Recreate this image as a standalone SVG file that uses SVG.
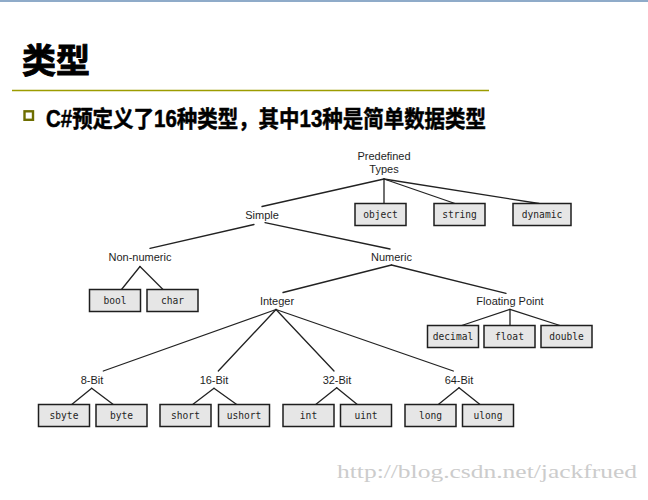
<svg xmlns="http://www.w3.org/2000/svg" width="648" height="500" viewBox="0 0 648 500">
<style>
.lbl{font-family:"Liberation Sans",Arial,sans-serif;font-size:11px;fill:#1e1e1e;text-anchor:middle}
.box rect{fill:#e6e6e6;stroke:#1e1e1e;stroke-width:1.5}
.box text{font-family:"DejaVu Sans Mono","Liberation Mono",monospace;font-size:9.6px;fill:#1e1e1e;text-anchor:middle}
#connectors line{stroke:#222;stroke-width:1.3;stroke-linecap:round}
</style>
<rect x="0" y="0" width="648" height="500" fill="#ffffff"/>
<rect x="0" y="0" width="648" height="2" fill="#8fabc9"/>
<text x="22" y="73" font-family="'Liberation Sans','Noto Sans CJK SC',sans-serif" font-size="34" font-weight="bold" fill="#000" stroke="#000" stroke-width="0.9">类型</text>
<line x1="12" y1="90.5" x2="489" y2="90.5" stroke="#9c9c00" stroke-width="1.5"/>
<rect x="24.5" y="111.3" width="8.5" height="8.5" fill="#ffffff" stroke="#6e6e00" stroke-width="2.4"/>
<text x="46" y="126.5" font-family="'Liberation Sans','Noto Sans CJK SC',sans-serif" font-size="23" font-weight="bold" fill="#000" stroke="#000" stroke-width="0.5" textLength="440" lengthAdjust="spacingAndGlyphs">C#预定义了16种类型，其中13种是简单数据类型</text>

<g id="connectors">
<line x1="384" y1="179" x2="262" y2="206.5"/>
<line x1="384" y1="179" x2="384" y2="203.5"/>
<line x1="384" y1="179" x2="455" y2="203.5"/>
<line x1="384" y1="179" x2="539" y2="203.5"/>
<line x1="254" y1="224.5" x2="150" y2="248.3"/>
<line x1="265" y1="222.7" x2="390" y2="249"/>
<line x1="140" y1="266.5" x2="121.5" y2="289.5"/>
<line x1="140" y1="266.5" x2="163" y2="289.5"/>
<line x1="391.5" y1="265" x2="283" y2="292.5"/>
<line x1="391.5" y1="265" x2="506" y2="293.3"/>
<line x1="276" y1="309.5" x2="103.3" y2="371"/>
<line x1="276" y1="309.5" x2="218.3" y2="371"/>
<line x1="276" y1="309.5" x2="334" y2="371"/>
<line x1="276" y1="309.5" x2="453.3" y2="371"/>
<line x1="510" y1="309.3" x2="461.7" y2="325.5"/>
<line x1="510" y1="309.3" x2="510" y2="325.5"/>
<line x1="510" y1="309.3" x2="560" y2="325.5"/>
<line x1="91.7" y1="388.3" x2="71.7" y2="404.5"/>
<line x1="91.7" y1="388.3" x2="113.3" y2="404.5"/>
<line x1="214" y1="388.3" x2="192.7" y2="404.5"/>
<line x1="214" y1="388.3" x2="236.7" y2="404.5"/>
<line x1="336.7" y1="387.8" x2="315.7" y2="404.5"/>
<line x1="336.7" y1="387.8" x2="357.3" y2="404.5"/>
<line x1="459" y1="387.8" x2="438.3" y2="404.5"/>
<line x1="459" y1="387.8" x2="480" y2="404.5"/>
</g>

<g id="n-predefined"><text class="lbl" x="384" y="160">Predefined</text><text class="lbl" x="384" y="173">Types</text></g>
<g id="n-simple"><text class="lbl" x="262" y="219">Simple</text></g>
<g id="n-nonnumeric"><text class="lbl" x="140" y="261">Non-numeric</text></g>
<g id="n-numeric"><text class="lbl" x="391.5" y="261">Numeric</text></g>
<g id="n-integer"><text class="lbl" x="277" y="305">Integer</text></g>
<g id="n-floating"><text class="lbl" x="510" y="305">Floating Point</text></g>
<g id="n-8bit"><text class="lbl" x="92" y="383.5">8-Bit</text></g>
<g id="n-16bit"><text class="lbl" x="214" y="383.5">16-Bit</text></g>
<g id="n-32bit"><text class="lbl" x="337" y="383.5">32-Bit</text></g>
<g id="n-64bit"><text class="lbl" x="459" y="383.5">64-Bit</text></g>

<g id="n-object" class="box"><rect x="355" y="203.5" width="51" height="22"/><text x="380.5" y="218">object</text></g>
<g id="n-string" class="box"><rect x="434" y="203.5" width="51" height="22"/><text x="459.5" y="218">string</text></g>
<g id="n-dynamic" class="box"><rect x="513" y="203.5" width="58" height="22"/><text x="542" y="218">dynamic</text></g>
<g id="n-bool" class="box"><rect x="89.5" y="289.5" width="51" height="22"/><text x="115" y="304">bool</text></g>
<g id="n-char" class="box"><rect x="147" y="289.5" width="51" height="22"/><text x="172.5" y="304">char</text></g>
<g id="n-decimal" class="box"><rect x="427.5" y="325.5" width="51" height="22"/><text x="453" y="340">decimal</text></g>
<g id="n-float" class="box"><rect x="484" y="325.5" width="51" height="22"/><text x="509.5" y="340">float</text></g>
<g id="n-double" class="box"><rect x="541" y="325.5" width="51" height="22"/><text x="566.5" y="340">double</text></g>
<g id="n-sbyte" class="box"><rect x="38.5" y="404.5" width="51" height="22"/><text x="64" y="419">sbyte</text></g>
<g id="n-byte" class="box"><rect x="96" y="404.5" width="51" height="22"/><text x="121.5" y="419">byte</text></g>
<g id="n-short" class="box"><rect x="160" y="404.5" width="51" height="22"/><text x="185.5" y="419">short</text></g>
<g id="n-ushort" class="box"><rect x="218.5" y="404.5" width="51" height="22"/><text x="244" y="419">ushort</text></g>
<g id="n-int" class="box"><rect x="283" y="404.5" width="51" height="22"/><text x="308.5" y="419">int</text></g>
<g id="n-uint" class="box"><rect x="340.5" y="404.5" width="51" height="22"/><text x="366" y="419">uint</text></g>
<g id="n-long" class="box"><rect x="405" y="404.5" width="51" height="22"/><text x="430.5" y="419">long</text></g>
<g id="n-ulong" class="box"><rect x="462.5" y="404.5" width="51" height="22"/><text x="488" y="419">ulong</text></g>

<text x="337" y="478" font-family="'Liberation Serif','Times New Roman',serif" font-size="19" fill="#cccccc" textLength="300" lengthAdjust="spacingAndGlyphs">http://blog.csdn.net/jackfrued</text>
</svg>
